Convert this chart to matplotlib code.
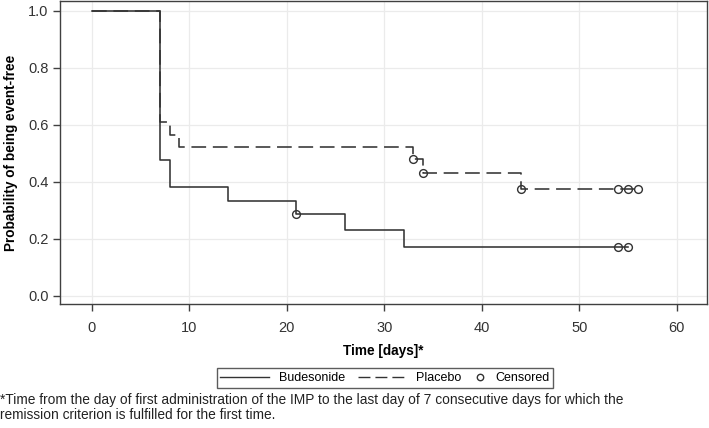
import matplotlib
matplotlib.use('Agg')
from matplotlib import pyplot as plt
from matplotlib.lines import Line2D
from matplotlib.legend_handler import HandlerLine2D

# Kaplan-Meier estimates
bud_time = [0, 7, 8, 14, 21, 26, 32, 55]
bud_surv = [1.0, 0.476, 0.381, 0.333, 0.286, 0.229, 0.171, 0.171]
bud_cens_time = [21, 54, 55]
bud_cens_surv = [0.286, 0.171, 0.171]

pla_time = [0, 7, 8, 9, 33, 34, 44, 56]
pla_surv = [1.0, 0.609, 0.565, 0.522, 0.478, 0.430, 0.376, 0.376]
pla_cens_time = [33, 34, 44, 54, 55, 56]
pla_cens_surv = [0.478, 0.430, 0.376, 0.376, 0.376, 0.376]

x_ticks = [0, 10, 20, 30, 40, 50, 60]
y_ticks = [0.0, 0.2, 0.4, 0.6, 0.8, 1.0]
legend_labels = ['Budesonide', 'Placebo', 'Censored']


# short handle for the censored marker entry
class ShortHandler(HandlerLine2D):
    def legend_artist(self, legend, orig_handle, fontsize, handlebox):
        handlebox.width = 0.9 * fontsize
        return super().legend_artist(legend, orig_handle, fontsize, handlebox)


plt.rcParams['font.family'] = ['Liberation Sans', 'DejaVu Sans']
col = '#333333'

fig = plt.figure(figsize=(7.09, 4.28), dpi=100)
ax = fig.add_axes([0.0853, 0.2897, 0.9117, 0.708])

ax.step(bud_time, bud_surv, where='post', color=col, lw=1.15)
ax.step(pla_time, pla_surv, where='post', color=col, lw=1.15, dashes=(9.2, 4.2))
ax.plot(bud_cens_time, bud_cens_surv, 'o', mfc='none', mec=col, ms=5.6, mew=1.0)
ax.plot(pla_cens_time, pla_cens_surv, 'o', mfc='none', mec=col, ms=5.6, mew=1.0)

ax.set_xlim(-3.2, 63.1)
ax.set_ylim(-0.029, 1.034)
ax.set_xticks(x_ticks)
ax.set_yticks(y_ticks)
ax.set_yticklabels(['%.1f' % v for v in y_ticks])
ax.grid(True, color='#ebebeb', lw=0.9)
ax.set_axisbelow(True)
ax.tick_params(direction='out', length=5, width=1, color='#404040',
               labelsize=10.5, labelcolor='#333333')
ax.tick_params(axis='x', pad=7)
ax.tick_params(axis='y', pad=3.5)
for s in ax.spines.values():
    s.set_color('#404040')
    s.set_linewidth(1.0)

ax.set_xlabel('Time [days]*', fontsize=9.8, fontweight='bold', labelpad=7)
ax.set_ylabel('Probability of being event-free', fontsize=9.8, fontweight='bold', labelpad=7)

handles = [Line2D([], [], color=col, lw=1.0),
           Line2D([], [], color=col, lw=1.0, dashes=(8.6, 3.6)),
           Line2D([], [], ls='none', marker='o', mfc='none', mec=col, ms=4.6)]
fig.legend(handles, legend_labels, loc='center',
           bbox_to_anchor=(0.543, 0.117), ncol=3, fontsize=9, frameon=True,
           fancybox=False, edgecolor='#333333', handlelength=3.9,
           columnspacing=1.0, handletextpad=0.8, borderpad=0.3,
           handler_map={handles[2]: ShortHandler()})

fig.text(0.0, 0.047,
         '*Time from the day of first administration of the IMP to the last day of 7 consecutive days for which the\n'
         'remission criterion is fulfilled for the first time.',
         fontsize=9.9, ha='left', va='center', linespacing=1.1, color='#222222')

fig.savefig('out.png', dpi=100)
